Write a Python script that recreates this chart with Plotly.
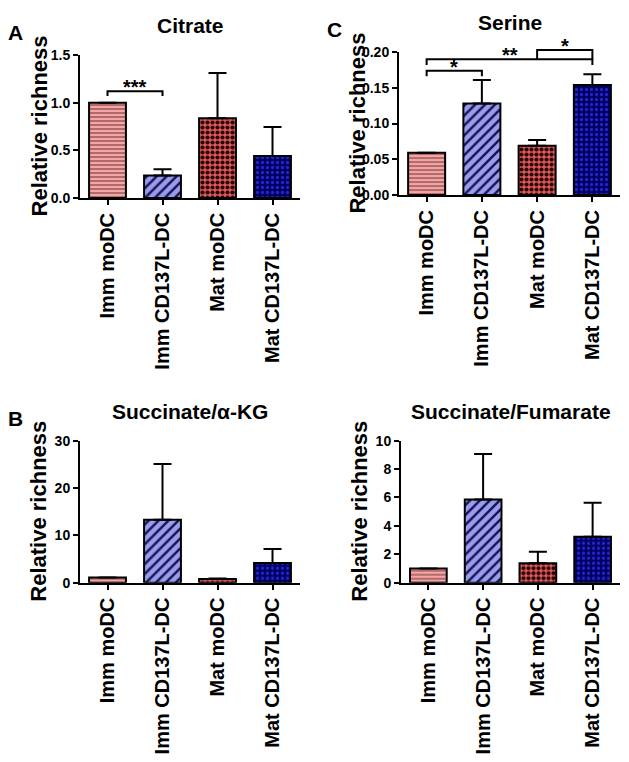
import plotly.graph_objects as go

W, H = 629, 762
FONT = "Liberation Sans, Arial, sans-serif"

groups = ["Imm moDC", "Imm CD137L-DC", "Mat moDC", "Mat CD137L-DC"]

citrate_mean = [1.0, 0.235, 0.835, 0.44]
citrate_sd = [0.0, 0.065, 0.475, 0.305]
serine_mean = [0.059, 0.128, 0.069, 0.154]
serine_sd = [0.0, 0.033, 0.008, 0.015]
succ_akg_mean = [1.1, 13.3, 0.8, 4.15]
succ_akg_sd = [0.0, 11.8, 0.1, 2.95]
succ_fum_mean = [1.0, 5.86, 1.36, 3.24]
succ_fum_sd = [0.0, 3.2, 0.82, 2.39]

# (left bar, right bar, bracket height, leg end, label)
citrate_sig = [(0, 1, 1.12, 1.07, "***")]
serine_sig = [(0, 1, 0.174, 0.166, "*"),
              (0, 3, 0.190, 0.182, "**"),
              (2, 3, 0.203, 0.190, "*")]

# bar fill styles per group
fill_bg = ["#f5a5a5", "#9b9bef", "#e05a5a", "#00005e"]
fill_fg = ["#6a3030", "#141450", "#2a0505", "#2424c8"]
pat_shape = ["-", "/", ".", "."]
pat_size = [4, 7, 5, 5]
pat_solid = [0.25, 0.35, 0.55, 0.35]

# plot boxes in pixels: left, right, top, bottom
panels = [
    dict(title="Citrate", letter="A", mean=citrate_mean, sd=citrate_sd,
         ticks=[0, 0.5, 1.0, 1.5], fmt=".1f", sig=citrate_sig,
         box=(80, 300, 48, 194)),
    dict(title="Serine", letter="C", mean=serine_mean, sd=serine_sd,
         ticks=[0, 0.05, 0.10, 0.15, 0.20], fmt=".2f", sig=serine_sig,
         box=(399, 620, 45, 191)),
    dict(title="Succinate/α-KG", letter="B", mean=succ_akg_mean, sd=succ_akg_sd,
         ticks=[0, 10, 20, 30], fmt="d", sig=[],
         box=(80, 300, 442, 587)),
    dict(title="Succinate/Fumarate", letter=None, mean=succ_fum_mean, sd=succ_fum_sd,
         ticks=[0, 2, 4, 6, 8, 10], fmt="d", sig=[],
         box=(401, 620, 442, 587)),
]


def px_x(p):
    return p / W


def px_y(p):
    return 1 - p / H


fig = go.Figure()
annotations = []
shapes = []

for k, pan in enumerate(panels, start=1):
    sfx = "" if k == 1 else str(k)
    l, r, t, b = pan["box"]
    ymax = pan["ticks"][-1]

    # one trace per bar: per-point pattern colours are not honoured by plotly
    for g, name in enumerate(groups):
        fig.add_trace(go.Bar(
            x=[name], y=[pan["mean"][g]], width=0.67,
            xaxis="x" + sfx, yaxis="y" + sfx,
            marker=dict(color=fill_bg[g],
                        line=dict(color="black", width=2),
                        pattern=dict(shape=pat_shape[g], fgcolor=fill_fg[g], bgcolor=fill_bg[g],
                                     fgopacity=1, size=pat_size[g], solidity=pat_solid[g],
                                     fillmode="overlay")),
            error_y=dict(type="data", symmetric=False, array=[pan["sd"][g]], arrayminus=[0],
                         color="black", thickness=2, width=9),
            showlegend=False,
        ))

    fig.update_layout({
        "xaxis" + sfx: dict(domain=[px_x(l), px_x(r)], anchor="y" + sfx,
                            categoryorder="array", categoryarray=groups,
                            range=[-0.5, len(groups) - 0.5], fixedrange=True,
                            showline=True, linecolor="black", linewidth=2,
                            ticks="outside", ticklen=5, tickwidth=2, tickcolor="black",
                            tickangle=-90, showgrid=False, zeroline=False,
                            tickfont=dict(family=FONT, size=20, color="black", weight="bold")),
        "yaxis" + sfx: dict(domain=[px_y(b), px_y(t)], anchor="x" + sfx,
                            range=[0, ymax], tickvals=pan["ticks"], tickformat=pan["fmt"],
                            showline=True, linecolor="black", linewidth=2,
                            ticks="outside", ticklen=5, tickwidth=2, tickcolor="black",
                            showgrid=False, zeroline=False, fixedrange=True,
                            tickfont=dict(family=FONT, size=14, color="black", weight="bold")),
    })

    # y title
    annotations.append(dict(text="Relative richness", textangle=-90,
                            xref="paper", yref="paper",
                            x=px_x(l - 41), y=px_y((t + b) / 2),
                            xanchor="center", yanchor="middle", showarrow=False,
                            font=dict(family=FONT, size=22, color="black", weight="bold")))
    # panel title
    annotations.append(dict(text=pan["title"], xref="paper", yref="paper",
                            x=px_x((l + r) / 2), y=px_y(t - 30),
                            xanchor="center", yanchor="middle", showarrow=False,
                            font=dict(family=FONT, size=21, color="black", weight="bold")))
    if pan["letter"]:
        annotations.append(dict(text=pan["letter"], xref="paper", yref="paper",
                                x=px_x(l - 65), y=px_y(t - 23),
                                xanchor="center", yanchor="middle", showarrow=False,
                                font=dict(family=FONT, size=21, color="black", weight="bold")))

    # significance brackets (domain refs so they can rise above the axis top)
    n = len(groups)
    for i, j, top, leg, lab in pan["sig"]:
        xi, xj = (i + 0.5) / n, (j + 0.5) / n
        yt, yl = top / ymax, leg / ymax
        shapes.append(dict(type="path", xref="x" + sfx + " domain", yref="y" + sfx + " domain",
                           path=f"M {xi} {yl} L {xi} {yt} L {xj} {yt} L {xj} {yl}",
                           line=dict(color="black", width=2)))
        annotations.append(dict(text=lab, xref="x" + sfx + " domain", yref="y" + sfx + " domain",
                                x=(xi + xj) / 2, y=yt, yshift=4,
                                xanchor="center", yanchor="middle", showarrow=False,
                                font=dict(family=FONT, size=20, color="black", weight="bold")))

fig.update_layout(
    width=W, height=H,
    margin=dict(l=0, r=0, t=0, b=0),
    paper_bgcolor="white", plot_bgcolor="white",
    barmode="overlay",
    annotations=annotations,
    shapes=shapes,
)

# drop the page's default body margin so the figure sits at the window corner
fig.write_html("out.html", config={"displayModeBar": False},
               post_script="document.body.style.margin='0';")
